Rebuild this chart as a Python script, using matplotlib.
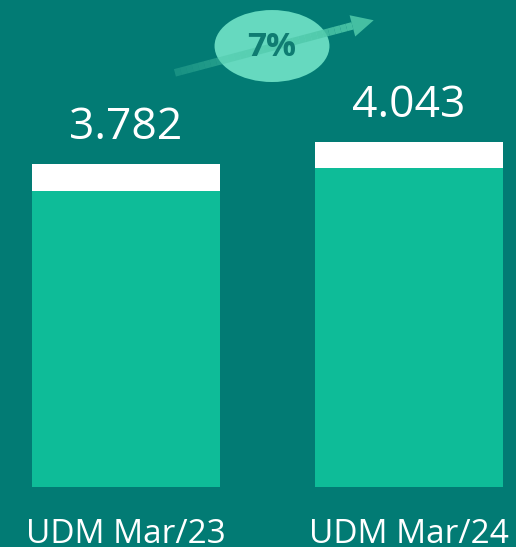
import numpy as np
import matplotlib
matplotlib.use('Agg')
import matplotlib.pyplot as plt
from matplotlib.patches import Ellipse, Polygon
from matplotlib.collections import LineCollection

# data
categories = ['UDM Mar/23', 'UDM Mar/24']
values = [3.782, 4.043]
value_labels = ['3.782', '4.043']
caps = [0.316, 0.31]   # white top band
growth_label = '7%'

BG = '#027B74'
GREEN = '#0EBC98'
plt.rcParams['font.family'] = ['Open Sans', 'DejaVu Sans']

fig = plt.figure(figsize=(5.16, 5.47), dpi=100, facecolor=BG)
ax = fig.add_axes([0, 0, 1, 1])
ax.set_facecolor(BG)
ax.set_xlim(-0.445, 1.378)
ax.set_ylim(-0.7026, 5.703)
ax.axis('off')

x = np.arange(len(categories))
vals = np.array(values)
cap = np.array(caps)
ax.bar(x, vals - cap, width=0.664, color=GREEN, linewidth=0)
ax.bar(x, cap, bottom=vals - cap, width=0.664, color='white', linewidth=0)

for xi, v, lab in zip(x, vals, value_labels):
    ax.text(xi, v + 0.29, lab, ha='center', va='baseline', color='white', fontsize=32)
for xi, c in zip(x, categories):
    ax.text(xi, -0.656, c, ha='center', va='baseline', color='white', fontsize=24)

# growth arrow (fading shaft) + bubble
x0, y0, x1, y1 = 0.173, 4.85, 0.80, 5.40
n = 30
xs = np.linspace(x0, x1, n + 1)
ys = np.linspace(y0, y1, n + 1)
segs = [[(xs[i], ys[i]), (xs[i + 1], ys[i + 1])] for i in range(n)]
cols = [(0.30, 0.78, 0.66, a) for a in np.linspace(0.3, 0.9, n)]
ax.add_collection(LineCollection(segs, colors=cols, linewidths=5.5, capstyle='butt'))
d = np.array([x1 - x0, (y1 - y0)]) * np.array([283, 85.4])
d = d / np.linalg.norm(d)
perp = np.array([-d[1], d[0]])
tip = np.array([x1 * 283, y1 * 85.4]) + d * 22
base = np.array([x1 * 283, y1 * 85.4])
pts = [tip, base + perp * 11, base - perp * 11]
pts = [(p[0] / 283, p[1] / 85.4) for p in pts]
ax.add_patch(Polygon(pts, closed=True, color=(0.30, 0.78, 0.66, 0.9), linewidth=0))

ax.add_patch(Ellipse((0.516, 5.164), 0.406, 0.843, color='#66D9BF', linewidth=0))
ax.text(0.516, 5.15, growth_label, ha='center', va='center', color='#0F7C72',
        fontsize=24, fontweight='bold')

fig.savefig('out.png', dpi=100, facecolor=BG)
